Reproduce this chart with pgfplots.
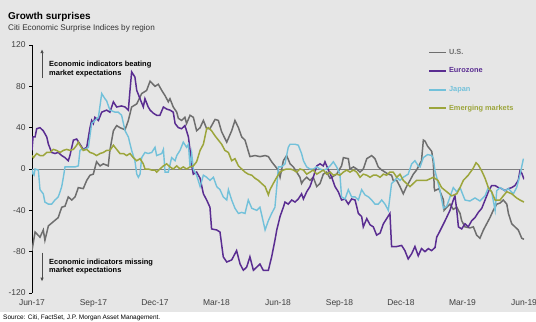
\documentclass[border=0pt]{standalone}
\usepackage{pgfplots}
\pgfplotsset{compat=1.18}
\usetikzlibrary{arrows.meta}
\usepackage{fontspec}
\setmainfont{Liberation Sans}
\definecolor{bg}{HTML}{E6E6E6}
\definecolor{usc}{HTML}{6E6E6E}
\definecolor{euc}{HTML}{5A2D91}
\definecolor{jpc}{HTML}{72C1DA}
\definecolor{emc}{HTML}{9CA53B}
\begin{document}
\begin{tikzpicture}[x=1bp,y=1bp]
\useasboundingbox (0,0) rectangle (536,321);
\fill[white] (0,0) rectangle (536,321);
\fill[bg] (0,9) rectangle (536,321);
\node[anchor=base west, font=\fontsize{10}{12}\selectfont\bfseries, inner sep=0] at (8,301.5) {Growth surprises};
\node[anchor=base west, font=\fontsize{8.2}{10}\selectfont, inner sep=0, text=black!80] at (8,290.5) {Citi Economic Surprise Indices by region};
\node[anchor=base west, font=\fontsize{6.5}{8}\selectfont, inner sep=0] at (3,2) {Source: Citi, FactSet, J.P. Morgan Asset Management.};
\begin{axis}[at={(32bp,28bp)}, anchor=south west, scale only axis,
  width=492bp, height=248bp,
  xmin=0, xmax=24, ymin=-120, ymax=120,
  axis lines=left, axis line style={-},
  x axis line style={draw=none},
  y axis line style={black, line width=0.8bp},
  xtick={0,3,...,24},
  xticklabels={Jun-17,Sep-17,Dec-17,Mar-18,Jun-18,Sep-18,Dec-18,Mar-19,Jun-19},
  ytick={-120,-80,...,120},
  tick align=outside, xtick style={draw=none},
  ytick style={black, line width=0.6bp}, major tick length=3bp,
  ticklabel style={font=\fontsize{8.5}{10}\selectfont, text=black!75},
  /pgf/number format/assume math mode=true,
  legend style={at={(0.805,0.992)}, anchor=north west, draw=none, fill=none,
    font=\fontsize{7.4}{9}\selectfont\bfseries, row sep=8bp, inner sep=0pt},
  legend cell align=left,
  legend image post style={line width=1.8bp},
  every axis plot/.append style={no marks, line width=1.5bp},
]
\draw[gray, line width=0.8bp] (axis cs:0,0) -- (axis cs:24,0);
\addplot[usc] coordinates {(0,-79) (0.15,-61) (0.39,-66) (0.55,-59) (0.63,-69) (0.80,-55) (1.04,-51) (1.28,-47) (1.45,-37) (1.61,-36) (1.77,-27) (1.94,-30) (2.1,-27) (2.26,-18) (2.5,-19) (2.67,-11) (2.83,-6) (2.99,-5) (3.15,7) (3.32,3) (3.48,5) (3.72,3) (3.8,18) (3.97,37) (4.13,42) (4.29,40) (4.54,38) (4.7,47) (4.86,60) (5.11,63) (5.35,73) (5.59,76) (5.76,85) (6.0,80) (6.16,82) (6.33,76) (6.49,71) (6.65,65) (6.73,68) (6.89,60) (7.06,55) (7.14,49) (7.30,47) (7.46,50) (7.54,44) (7.71,52) (7.87,50) (8.03,37) (8.2,40) (8.36,47) (8.52,39) (8.68,39) (8.93,48) (9.09,47) (9.25,36) (9.5,26) (9.74,37) (9.9,47) (10.07,40) (10.23,31) (10.39,28) (10.63,12) (10.88,13) (11.12,12) (11.37,13) (11.53,12) (11.69,7) (11.77,5) (12.01,-1) (12.1,-8) (12.26,8) (12.42,13) (12.59,5) (12.75,2) (12.91,-3) (13.07,-8) (13.15,-14) (13.24,-11) (13.4,-8) (13.56,-11) (13.72,-8) (13.89,-17) (14.05,-14) (14.21,-5) (14.37,-3) (14.54,-9) (14.86,-5) (15.1,3) (15.19,11) (15.43,10) (15.51,0) (15.68,2) (15.84,0) (16.0,-3) (16.16,0) (16.33,10) (16.57,13) (16.73,10) (16.89,2) (17.06,-1) (17.22,-3) (17.38,-5) (17.54,-6) (17.62,-11) (17.79,-11) (17.95,-17) (18.11,-24) (18.27,-17) (18.44,-11) (18.6,-5) (18.76,-1) (18.92,5) (19.0,8) (19.09,28) (19.17,27) (19.3,22) (19.5,17) (19.58,5) (19.62,-18) (19.65,-21) (19.85,-19) (20.07,-30) (20.1,-40) (20.23,-37) (20.39,-34) (20.55,-39) (20.72,-37) (20.88,-43) (20.96,-50) (21.12,-56) (21.36,-57) (21.53,-56) (21.69,-64) (21.85,-67) (22.02,-59) (22.18,-53) (22.34,-47) (22.5,-40) (22.67,-34) (22.83,-33) (22.99,-30) (23.16,-34) (23.24,-43) (23.4,-53) (23.56,-56) (23.72,-59) (23.89,-67) (24,-68)};
\addlegendentry{\textcolor{usc}{U.S.}}
\addplot[euc] coordinates {(0,18) (0.05,31) (0.15,31) (0.23,39) (0.39,40) (0.55,37) (0.72,31) (0.8,24) (0.96,16) (1.12,15) (1.28,16) (1.45,13) (1.61,11) (1.77,8) (1.85,13) (2.02,28) (2.18,29) (2.34,24) (2.5,19) (2.67,21) (2.83,40) (2.91,47) (2.99,44) (3.07,50) (3.24,47) (3.4,55) (3.64,57) (3.8,55) (3.97,65) (4.13,60) (4.37,61) (4.54,60) (4.7,57) (4.78,76) (4.86,94) (5.02,89) (5.11,76) (5.27,68) (5.43,60) (5.51,68) (5.67,60) (5.76,57) (5.92,54) (6.08,52) (6.24,52) (6.41,60) (6.57,58) (6.73,57) (6.89,55) (6.98,44) (7.14,40) (7.3,39) (7.46,42) (7.63,31) (7.71,18) (7.79,3) (7.87,-5) (8.03,-3) (8.2,-9) (8.36,-24) (8.52,-30) (8.68,-37) (8.76,-58) (9.01,-59) (9.17,-61) (9.33,-85) (9.5,-90) (9.74,-88) (9.98,-79) (10.15,-92) (10.31,-98) (10.47,-95) (10.63,-85) (10.8,-98) (10.96,-95) (11.12,-92) (11.28,-98) (11.53,-98) (11.69,-85) (11.85,-69) (11.94,-59) (12.1,-46) (12.26,-37) (12.34,-32) (12.5,-34) (12.67,-30) (12.83,-32) (12.99,-29) (13.15,-24) (13.24,-29) (13.4,-22) (13.56,-17) (13.72,-8) (13.89,3) (14.05,5) (14.21,3) (14.29,7) (14.46,-1) (14.62,-8) (14.78,-17) (14.94,-22) (15.1,-30) (15.27,-29) (15.43,-34) (15.59,-29) (15.76,-30) (15.92,-43) (16.08,-46) (16.16,-56) (16.33,-48) (16.49,-54) (16.65,-56) (16.81,-64) (16.98,-62) (17.14,-53) (17.3,-48) (17.46,-43) (17.54,-75) (17.71,-75) (17.79,-75) (18.03,-74) (18.19,-79) (18.35,-87) (18.52,-82) (18.68,-75) (18.84,-84) (19.0,-77) (19.17,-80) (19.33,-77) (19.49,-79) (19.66,-76) (19.74,-66) (19.9,-60) (20.15,-50) (20.39,-40) (20.55,-30) (20.63,-26) (20.72,-40) (20.8,-56) (20.96,-58) (21.12,-53) (21.28,-56) (21.45,-50) (21.61,-47) (21.77,-42) (21.94,-38) (22.1,-30) (22.26,-22) (22.42,-16) (22.59,-16) (22.75,-18) (22.91,-19) (23.07,-21) (23.24,-19) (23.4,-18) (23.56,-16) (23.72,-11) (23.8,-2) (23.89,-4) (24,-10)};
\addlegendentry{\textcolor{euc}{Eurozone}}
\addplot[jpc, line width=1.4bp] coordinates {(0,0) (0.05,-5) (0.1,-6) (0.15,0) (0.31,-1) (0.39,-20) (0.55,-24) (0.63,-32) (0.8,-34) (0.96,-34) (1.12,-30) (1.28,-27) (1.37,-22) (1.45,-17) (1.53,-8) (1.61,2) (1.77,2) (1.94,2) (2.1,2) (2.26,3) (2.34,18) (2.42,19) (2.58,19) (2.75,21) (2.91,44) (3.07,47) (3.24,50) (3.4,73) (3.56,68) (3.64,66) (3.8,57) (4.05,55) (4.21,55) (4.37,52) (4.54,37) (4.7,31) (4.86,18) (5.02,8) (5.11,-5) (5.19,-8) (5.27,-5) (5.35,11) (5.51,16) (5.67,15) (5.84,16) (6.0,21) (6.08,13) (6.33,15) (6.41,19) (6.49,-3) (6.65,-3) (6.81,11) (6.98,8) (7.06,13) (7.22,18) (7.38,26) (7.54,21) (7.63,24) (7.71,2) (7.79,15) (7.87,0) (8.03,-6) (8.2,-17) (8.36,-6) (8.52,-8) (8.68,-11) (8.85,-8) (9.01,-17) (9.17,-20) (9.33,-27) (9.5,-30) (9.58,-20) (9.74,-30) (9.9,-38) (10.07,-43) (10.23,-42) (10.39,-43) (10.55,-30) (10.72,-38) (10.96,-40) (11.12,-37) (11.28,-51) (11.37,-59) (11.53,-50) (11.69,-43) (11.85,-37) (11.94,-17) (12.02,2) (12.18,2) (12.34,5) (12.5,21) (12.59,24) (12.83,24) (12.99,23) (13.15,15) (13.24,8) (13.4,2) (13.56,0) (13.72,0) (13.89,2) (14.05,0) (14.21,-1) (14.37,0) (14.54,3) (14.7,7) (14.86,2) (15.02,-5) (15.1,-27) (15.27,-29) (15.43,-20) (15.59,-27) (15.76,-27) (15.92,-30) (16.08,-20) (16.24,-25) (16.41,-27) (16.57,-30) (16.73,-34) (16.89,-34) (17.06,-30) (17.22,-34) (17.38,-40) (17.54,-14) (17.71,-11) (17.79,-8) (17.95,-11) (18.11,-8) (18.35,-5) (18.52,5) (18.68,8) (18.84,3) (18.93,2) (19.09,11) (19.3,14) (19.5,13) (19.58,10) (19.66,-2) (19.74,-8) (19.9,-21) (20.07,-38) (20.23,-36) (20.39,-27) (20.55,-18) (20.72,-22) (20.88,-18) (21.12,-30) (21.36,-31) (21.61,-28) (21.85,-31) (22.1,-26) (22.26,-18) (22.42,-22) (22.59,-40) (22.67,-21) (22.83,-18) (23.07,-21) (23.24,-19) (23.48,-24) (23.64,-18) (23.8,-6) (23.97,10)};
\addlegendentry{\textcolor{jpc}{Japan}}
\addplot[emc] coordinates {(0,13) (0.07,11) (0.23,15) (0.39,13) (0.55,13) (0.72,16) (0.88,16) (1.04,19) (1.2,18) (1.37,16) (1.53,18) (1.69,19) (1.85,18) (2.02,19) (2.18,23) (2.26,26) (2.34,23) (2.5,18) (2.67,19) (2.83,16) (2.99,15) (3.15,13) (3.32,15) (3.48,16) (3.64,18) (3.8,18) (3.97,23) (4.13,19) (4.29,15) (4.46,15) (4.62,13) (4.78,15) (4.94,11) (5.11,8) (5.27,10) (5.43,5) (5.51,0) (5.67,0) (5.84,-1) (6.0,-1) (6.08,-3) (6.24,0) (6.41,3) (6.57,5) (6.73,2) (6.89,0) (7.06,3) (7.22,0) (7.38,2) (7.54,0) (7.71,2) (7.87,3) (8.03,7) (8.2,18) (8.36,24) (8.52,39) (8.6,40) (8.76,37) (8.93,32) (9.09,28) (9.25,24) (9.41,18) (9.58,16) (9.74,8) (9.9,10) (10.07,3) (10.23,0) (10.39,-3) (10.55,-5) (10.72,-6) (10.88,-9) (11.04,-11) (11.2,-14) (11.37,-17) (11.53,-25) (11.61,-20) (11.77,-14) (11.94,-8) (12.1,-3) (12.26,-1) (12.42,0) (12.59,0) (12.75,-1) (12.91,-3) (13.07,0) (13.24,-1) (13.4,-5) (13.56,-3) (13.72,-1) (13.89,-5) (14.05,-3) (14.21,-1) (14.37,-5) (14.54,-3) (14.7,-6) (14.86,-5) (15.02,-6) (15.19,-3) (15.35,-1) (15.51,-3) (15.68,-1) (15.84,-3) (16.0,-8) (16.16,-5) (16.33,-6) (16.49,-8) (16.65,-6) (16.81,-6) (16.98,-8) (17.14,-5) (17.3,-6) (17.46,-3) (17.62,-3) (17.79,-8) (17.95,-5) (18.11,-11) (18.27,-14) (18.44,-17) (18.6,-14) (18.76,-11) (18.93,-11) (19.25,-11) (19.58,-8) (19.8,-11) (19.98,-18) (20.23,-22) (20.47,-26) (20.72,-24) (20.88,-18) (21.04,-11) (21.28,-6) (21.53,1) (21.66,6) (21.77,4) (21.94,-2) (22.1,-9) (22.26,-18) (22.42,-22) (22.59,-30) (22.83,-30) (22.99,-26) (23.16,-22) (23.4,-24) (23.64,-28) (23.8,-30) (24,-32)};
\addlegendentry{\textcolor{emc}{Emerging markets}}
\draw[-{Latex[length=4bp,width=3.5bp]}, line width=0.8bp, black!70] (axis cs:0.49,88) -- (axis cs:0.49,116);
\node[anchor=north west, align=left, font=\fontsize{7.5}{9}\selectfont\bfseries, inner sep=0] at (axis cs:0.83,105) {Economic indicators beating\\market expectations};
\draw[-{Latex[length=4bp,width=3.5bp]}, line width=0.8bp, black!70] (axis cs:0.49,-81) -- (axis cs:0.49,-109);
\node[anchor=north west, align=left, font=\fontsize{7.5}{9}\selectfont\bfseries, inner sep=0] at (axis cs:0.83,-86.5) {Economic indicators missing\\market expectations};
\end{axis}
\end{tikzpicture}
\end{document}
